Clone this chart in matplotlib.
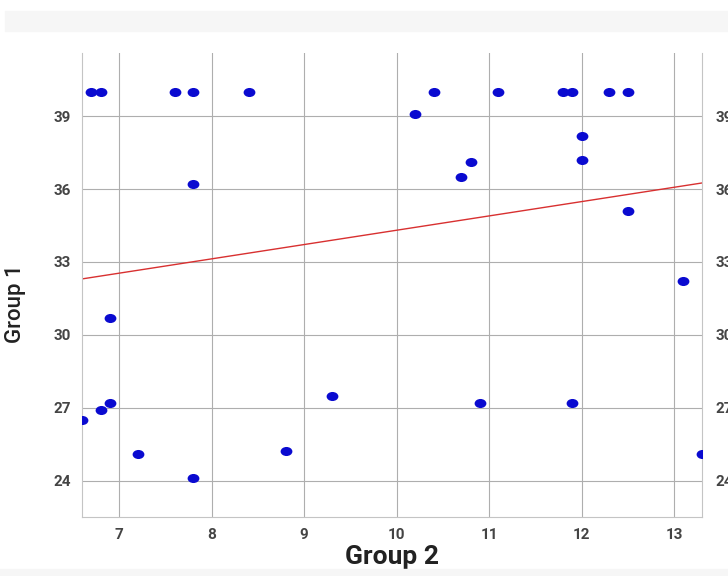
import numpy as np
import matplotlib
matplotlib.use("Agg")
import matplotlib.pyplot as plt
from matplotlib.path import Path
from matplotlib.patches import Rectangle
from matplotlib.transforms import Affine2D

# values
group2 = [6.7, 6.8, 7.6, 7.8, 8.4, 10.4, 11.1, 11.8, 11.9, 12.3, 12.5,
          10.2, 10.8, 10.7, 12.0, 12.0, 12.5, 13.1, 7.8, 6.9,
          6.9, 6.8, 6.6, 7.2, 7.8, 8.8, 9.3, 10.9, 11.9, 13.3]
group1 = [40.0, 40.0, 40.0, 40.0, 40.0, 40.0, 40.0, 40.0, 40.0, 40.0, 40.0,
          39.1, 37.1, 36.5, 38.2, 37.2, 35.1, 32.2, 36.2, 30.7,
          27.2, 26.9, 26.5, 25.1, 24.1, 25.2, 27.5, 27.2, 27.2, 25.1]

# trend line (left / right ends)
line_x = [6.6, 13.3]
line_y = [32.3, 36.25]

xticks = [7, 8, 9, 10, 11, 12, 13]
yticks = [24, 27, 30, 33, 36, 39]

plt.rcParams['font.family'] = ['Roboto', 'DejaVu Sans']

fig = plt.figure(figsize=(7.28, 5.76), dpi=100)
# grey strips of the screenshot
fig.patches.append(Rectangle((5/728, 1-31/576), 1, 20/576, transform=fig.transFigure,
                             color="#f6f6f6", zorder=0))
fig.patches.append(Rectangle((0, 0), 1, 7/576, transform=fig.transFigure,
                             color="#f6f6f6", zorder=0))

ax = fig.add_axes([82/728, 1-517/576, 620/728, 464/576])

ellipse = Path.unit_circle().transformed(Affine2D().scale(1.3, 1.0))
ax.scatter(group2, group1, marker=ellipse, s=72, color="#0a0ad0", zorder=3, linewidths=0)
ax.plot(line_x, line_y, color="#d83030", lw=1.0, zorder=2)

ax.set_xlim(6.6, 13.3)
ax.set_ylim(22.5, 41.6)
ax.set_xticks(xticks)
ax.set_yticks(yticks)
ax.grid(True, color="#aeaeae", lw=0.8)
ax.set_axisbelow(True)
for s in ["left", "bottom", "right"]:
    ax.spines[s].set_color("#c4c4c4")
ax.spines["top"].set_visible(False)
ax.tick_params(length=0, pad=8, labelsize=11, labelcolor="#444444")
for lab in ax.get_xticklabels() + ax.get_yticklabels():
    lab.set_fontweight("bold")

ax2 = ax.twinx()
ax2.set_ylim(ax.get_ylim())
ax2.set_yticks(yticks)
ax2.tick_params(length=0, pad=10, labelsize=11, labelcolor="#444444")
for lab in ax2.get_yticklabels():
    lab.set_fontweight("bold")
for s in ax2.spines.values():
    s.set_visible(False)

ax.set_xlabel("Group 2", fontsize=19, fontweight="bold", color="#222222", labelpad=2)
ax.set_ylabel("Group 1", fontsize=16, fontweight="medium", color="#222222")
ax.yaxis.set_label_coords(-0.09, 0.46)

fig.savefig("out.png", dpi=100)
